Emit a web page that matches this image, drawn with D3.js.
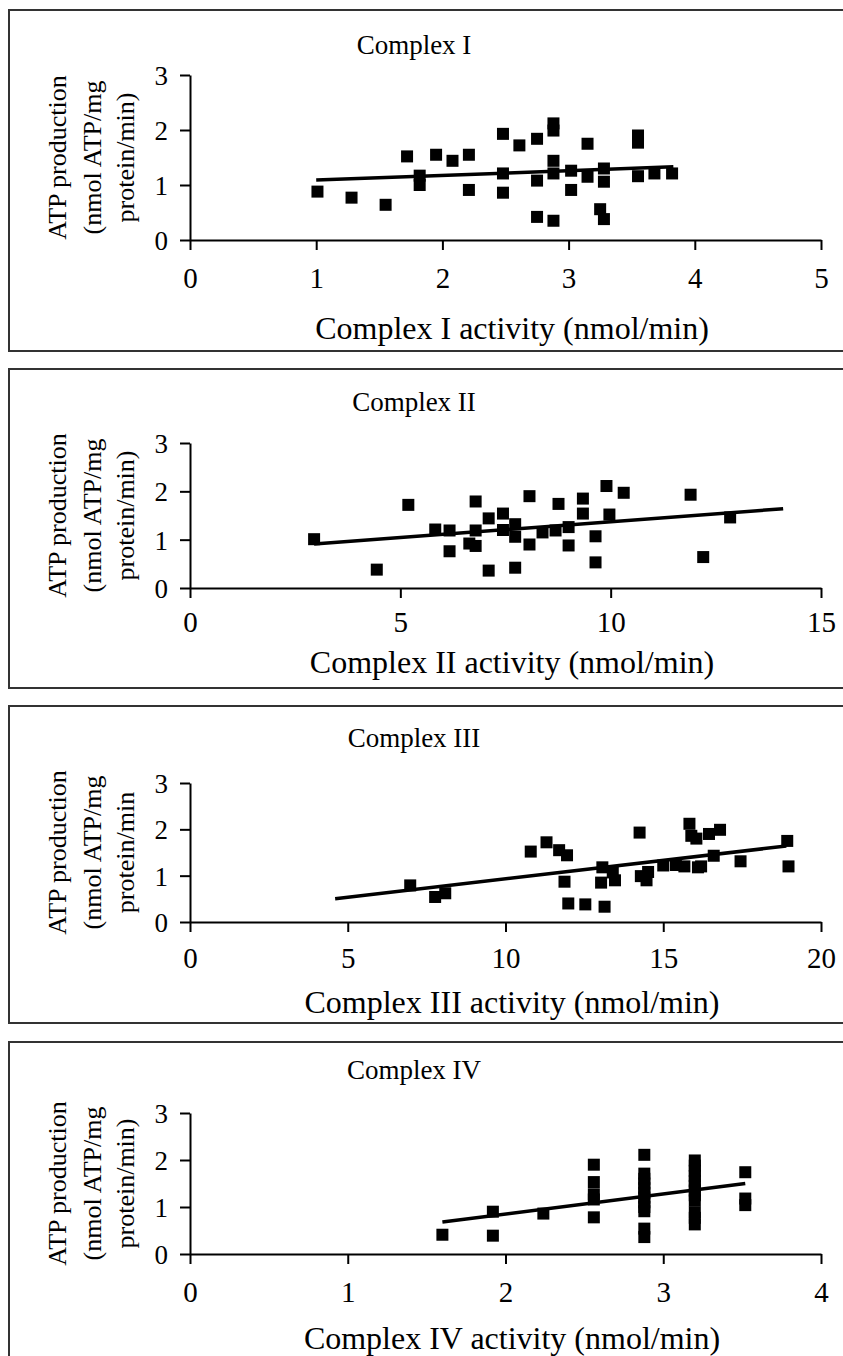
<!DOCTYPE html>
<html>
<head>
<meta charset="utf-8">
<script src="https://cdn.jsdelivr.net/npm/d3@7"></script>
<style>
  body { margin: 0; background: #fff; }
  text { font-family: "Liberation Serif", "Times New Roman", serif; fill: #000; }
</style>
</head>
<body>
<svg id="chart" width="843" height="1356"></svg>
<script>
// ---- data ----
var panelTitles = ["Complex I", "Complex II", "Complex III", "Complex IV"];
var xLabels = ["Complex I activity (nmol/min)", "Complex II activity (nmol/min)",
               "Complex III activity (nmol/min)", "Complex IV activity (nmol/min)"];
var yLabelLines = [
    ["ATP production", "(nmol ATP/mg", "protein/min)"],
    ["ATP production", "(nmol ATP/mg", "protein/min)"],
    ["ATP production", "(nmol ATP/mg", "protein/min"],
    ["ATP production", "(nmol ATP/mg", "protein/min)"]
];
var xMax = [5, 15, 20, 4];
var xTicks = [[0, 1, 2, 3, 4, 5], [0, 5, 10, 15], [0, 5, 10, 15, 20], [0, 1, 2, 3, 4]];
var yTicks = [0, 1, 2, 3];

var c1Activity = [1.01, 1.28, 1.55, 1.72, 1.82, 1.82, 1.95, 2.08, 2.21, 2.21, 2.48, 2.48, 2.48, 2.61, 2.75, 2.75, 2.75,
    2.88, 2.88, 2.88, 2.88, 2.88, 3.02, 3.02, 3.15, 3.15, 3.25, 3.28, 3.28, 3.28, 3.55, 3.55, 3.55, 3.68, 3.82];
var c1Atp = [0.88, 0.77, 0.64, 1.52, 1.17, 1.00, 1.55, 1.44, 1.55, 0.91, 1.93, 1.21, 0.86, 1.72, 1.84, 1.08, 0.42,
    2.12, 1.99, 1.44, 1.21, 0.35, 1.26, 0.91, 1.75, 1.15, 0.56, 1.30, 1.06, 0.38, 1.90, 1.77, 1.16, 1.21, 1.21];
var c1TrendX = [1.0, 3.83], c1TrendY = [1.09, 1.33];

var c2Activity = [2.95, 4.44, 5.19, 5.83, 6.17, 6.17, 6.64, 6.79, 6.79, 6.79, 7.10, 7.10, 7.44, 7.44, 7.73, 7.73, 7.73,
    8.07, 8.07, 8.38, 8.69, 8.76, 9.00, 9.00, 9.34, 9.34, 9.64, 9.64, 9.90, 9.97, 10.31, 11.90, 12.20, 12.84];
var c2Atp = [1.01, 0.38, 1.72, 1.21, 1.19, 0.76, 0.92, 1.79, 1.19, 0.87, 1.44, 0.36, 1.54, 1.20, 1.32, 1.06, 0.42,
    1.90, 0.90, 1.15, 1.19, 1.74, 1.26, 0.88, 1.85, 1.54, 1.07, 0.53, 2.11, 1.52, 1.97, 1.93, 0.64, 1.46];
var c2TrendX = [2.95, 14.1], c2TrendY = [0.91, 1.64];

var c3Activity = [6.98, 7.77, 8.09, 10.80, 11.30, 11.70, 11.95, 11.87, 11.99, 12.53, 13.03, 13.07, 13.14, 13.40, 13.47,
    14.25, 14.29, 14.47, 14.52, 15.00, 15.40, 15.67, 15.83, 15.89, 16.05, 16.10, 16.20, 16.45, 16.60, 16.80, 17.45, 18.93, 18.97];
var c3Atp = [0.79, 0.54, 0.62, 1.52, 1.72, 1.55, 1.44, 0.87, 0.40, 0.38, 0.85, 1.18, 0.33, 1.07, 0.90,
    1.93, 0.99, 0.90, 1.08, 1.22, 1.23, 1.20, 2.12, 1.86, 1.80, 1.18, 1.20, 1.90, 1.43, 1.99, 1.31, 1.75, 1.20];
var c3TrendX = [4.6, 18.9], c3TrendY = [0.50, 1.64];

var c4Activity = [1.60, 1.92, 1.92, 2.24, 2.56, 2.56, 2.56, 2.56, 2.56,
    2.88, 2.88, 2.88, 2.88, 2.88, 2.88, 2.88, 2.88, 2.88, 2.88, 2.88, 2.88,
    3.20, 3.20, 3.20, 3.20, 3.20, 3.20, 3.20, 3.20, 3.20, 3.20, 3.20, 3.20,
    3.52, 3.52, 3.52];
var c4Atp = [0.41, 0.39, 0.90, 0.86, 1.90, 1.53, 1.27, 1.16, 0.78,
    2.11, 1.71, 1.60, 1.50, 1.40, 1.30, 1.20, 1.10, 1.00, 0.91, 0.54, 0.36,
    1.99, 1.88, 1.77, 1.66, 1.55, 1.45, 1.35, 1.25, 1.14, 0.89, 0.77, 0.63,
    1.74, 1.18, 1.04];
var c4TrendX = [1.6, 3.52], c4TrendY = [0.68, 1.50];

var activity = [c1Activity, c2Activity, c3Activity, c4Activity];
var atp = [c1Atp, c2Atp, c3Atp, c4Atp];
var trendX = [c1TrendX, c2TrendX, c3TrendX, c4TrendX];
var trendY = [c1TrendY, c2TrendY, c3TrendY, c4TrendY];

// ---- layout (pixel positions of each framed panel) ----
var layout = [
    {top: 10,   bottom: 351,  titleY: 45,   yTop: 75,   yBottom: 240,  tickGap: 38, labelGap: 88},
    {top: 369,  bottom: 688,  titleY: 402,  yTop: 443,  yBottom: 588,  tickGap: 34, labelGap: 74},
    {top: 706,  bottom: 1023, titleY: 738,  yTop: 783,  yBottom: 922,  tickGap: 36, labelGap: 80},
    {top: 1042, bottom: 1400, titleY: 1070, yTop: 1113, yBottom: 1254, tickGap: 38, labelGap: 84}
];
var axisLeft = 190, axisRight = 821;
var markSize = 12;

var svg = d3.select("#chart");

layout.forEach(function(p, i) {
    var g = svg.append("g");

    // panel frame (right side runs off the page)
    g.append("rect")
        .attr("x", 9)
        .attr("y", p.top)
        .attr("width", 900)
        .attr("height", p.bottom - p.top)
        .attr("fill", "none")
        .attr("stroke", "#333")
        .attr("stroke-width", 2);

    var x = d3.scaleLinear().domain([0, xMax[i]]).range([axisLeft, axisRight]);
    var y = d3.scaleLinear().domain([0, 3]).range([p.yBottom, p.yTop]);

    //x axis
    var xg = g.append("g")
        .attr("transform", "translate(0," + p.yBottom + ")")
        .call(d3.axisBottom(x).tickValues(xTicks[i]).tickFormat(d3.format("d"))
            .tickSize(10).tickSizeOuter(0));
    xg.selectAll("text")
        .attr("y", p.tickGap)
        .attr("dy", "0.35em")
        .style("font-size", "29px");

    //y axis
    var yg = g.append("g")
        .attr("transform", "translate(" + axisLeft + ",0)")
        .call(d3.axisLeft(y).tickValues(yTicks).tickFormat(d3.format("d"))
            .tickSize(10).tickSizeOuter(0));
    yg.selectAll("text")
        .attr("x", -22)
        .attr("dy", "0.35em")
        .style("font-size", "27px");

    xg.attr("font-family", null).attr("font-size", null);
    yg.attr("font-family", null).attr("font-size", null);
    g.selectAll(".domain, .tick line")
        .attr("stroke", "#000")
        .attr("stroke-width", 2);

    // points
    var pts = d3.zip(activity[i], atp[i]);
    g.append("g")
        .selectAll("rect")
        .data(pts)
        .enter()
        .append("rect")
        .attr("x", function(d) { return x(d[0]) - markSize / 2; })
        .attr("y", function(d) { return y(d[1]) - markSize / 2; })
        .attr("width", markSize)
        .attr("height", markSize)
        .attr("fill", "#000");

    // linear trend line
    var line = d3.line()
        .x(function(d) { return x(d[0]); })
        .y(function(d) { return y(d[1]); });
    g.append("path")
        .datum(d3.zip(trendX[i], trendY[i]))
        .attr("d", line)
        .attr("fill", "none")
        .attr("stroke", "#000")
        .attr("stroke-width", 3.5);

    // texts
    g.append("text")
        .attr("x", 414)
        .attr("y", p.titleY)
        .attr("dy", "0.35em")
        .attr("text-anchor", "middle")
        .style("font-size", "27px")
        .text(panelTitles[i]);

    g.append("text")
        .attr("x", 512)
        .attr("y", p.yBottom + p.labelGap)
        .attr("dy", "0.35em")
        .attr("text-anchor", "middle")
        .style("font-size", "32px")
        .text(xLabels[i]);

    var midY = (p.yTop + p.yBottom) / 2;
    var lineX = [57, 92, 125];
    yLabelLines[i].forEach(function(t, k) {
        g.append("text")
            .attr("transform", "translate(" + lineX[k] + "," + midY + ") rotate(-90)")
            .attr("dy", "0.35em")
            .attr("text-anchor", "middle")
            .style("font-size", "26px")
            .text(t);
    });
});
</script>
</body>
</html>
